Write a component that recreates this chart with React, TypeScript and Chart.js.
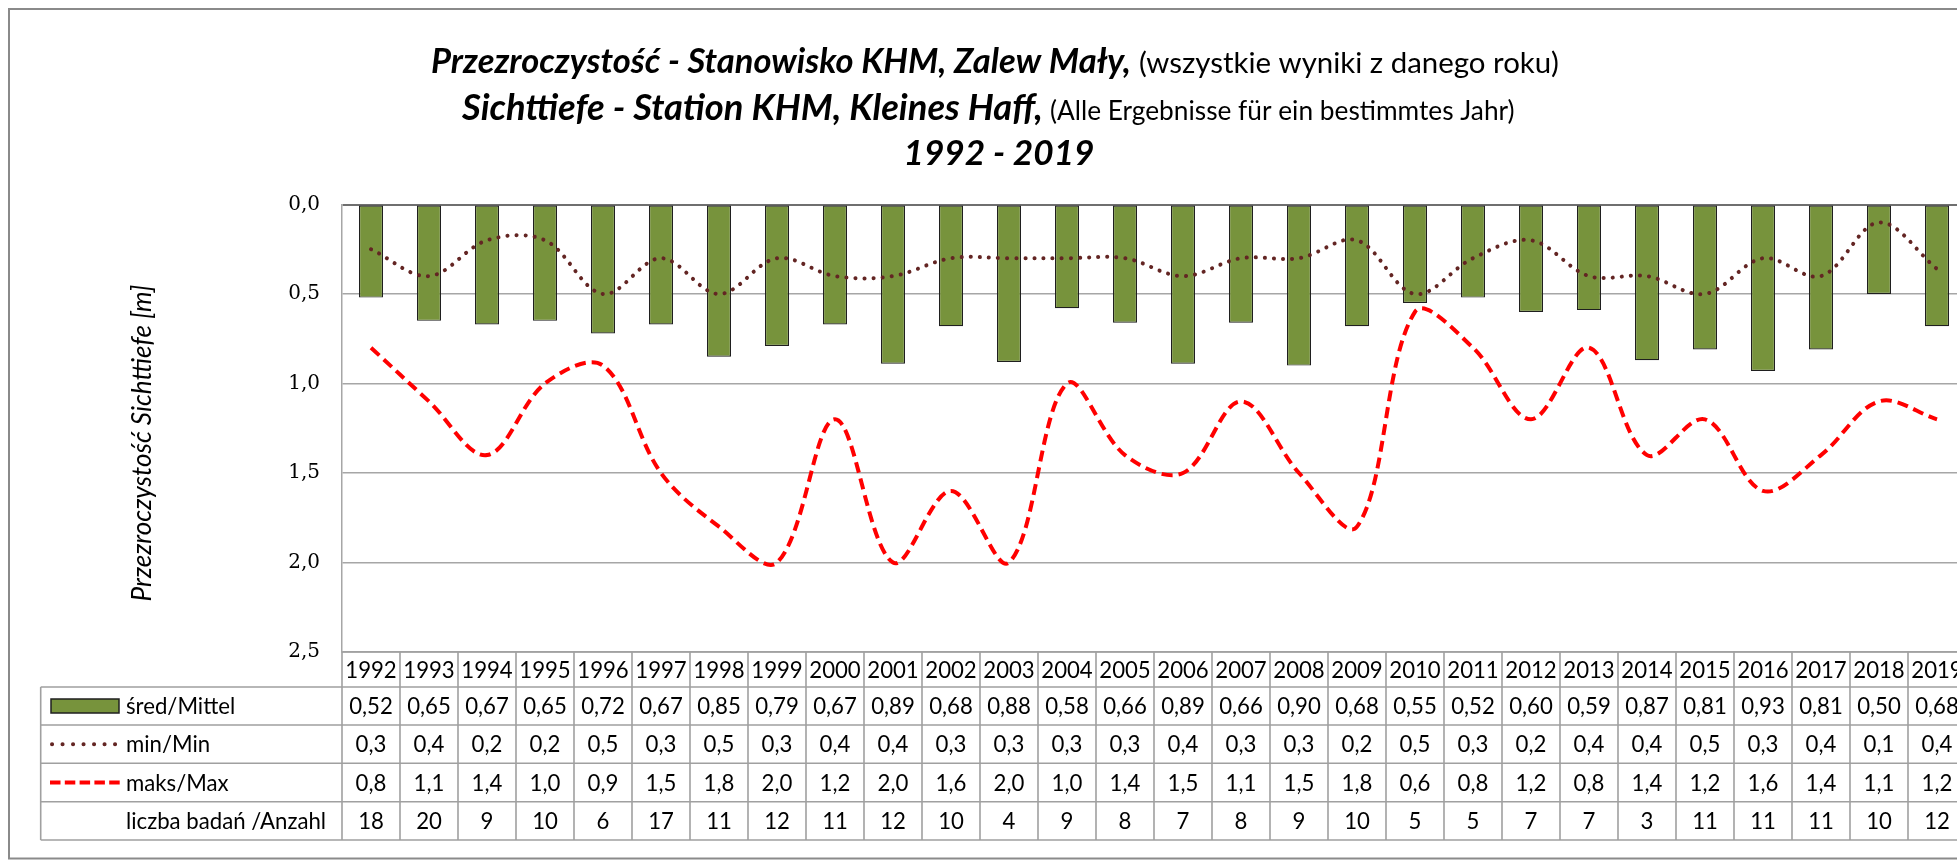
import React, { useEffect, useRef } from "react";
import { Chart, registerables } from "chart.js";

Chart.register(...registerables);

// ---------- data ----------
const years = [
  "1992", "1993", "1994", "1995", "1996", "1997", "1998", "1999", "2000", "2001",
  "2002", "2003", "2004", "2005", "2006", "2007", "2008", "2009", "2010", "2011",
  "2012", "2013", "2014", "2015", "2016", "2017", "2018", "2019",
];
const meanValues = [
  0.52, 0.65, 0.67, 0.65, 0.72, 0.67, 0.85, 0.79, 0.67, 0.89,
  0.68, 0.88, 0.58, 0.66, 0.89, 0.66, 0.9, 0.68, 0.55, 0.52,
  0.6, 0.59, 0.87, 0.81, 0.93, 0.81, 0.5, 0.68,
];
const minValues = [
  0.25, 0.4, 0.2, 0.2, 0.5, 0.3, 0.5, 0.3, 0.4, 0.4,
  0.3, 0.3, 0.3, 0.3, 0.4, 0.3, 0.3, 0.2, 0.5, 0.3,
  0.2, 0.4, 0.4, 0.5, 0.3, 0.4, 0.1, 0.36,
];
const maxValues = [
  0.8, 1.1, 1.4, 1.0, 0.9, 1.5, 1.8, 2.0, 1.2, 2.0,
  1.6, 2.0, 1.0, 1.4, 1.5, 1.1, 1.5, 1.8, 0.6, 0.8,
  1.2, 0.8, 1.4, 1.2, 1.6, 1.4, 1.1, 1.2,
];
const sampleCounts = [
  18, 20, 9, 10, 6, 17, 11, 12, 11, 12,
  10, 4, 9, 8, 7, 8, 9, 10, 5, 5,
  7, 7, 3, 11, 11, 11, 10, 12,
];
const yAxisMin = 0;
const yAxisMax = 2.5;
const yAxisStep = 0.5;

const rowLabels = ["śred/Mittel", "min/Min", "maks/Max", "liczba badań /Anzahl"];
const yAxisTitle = "Przezroczystość Sichttiefe [m]";
const titleLine1Bold = "Przezroczystość - Stanowisko KHM, Zalew Mały,";
const titleLine1Regular = "(wszystkie wyniki z danego roku)";
const titleLine2Bold = "Sichttiefe - Station KHM, Kleines Haff,";
const titleLine2Regular = "(Alle Ergebnisse für ein bestimmtes Jahr)";
const titleLine3Bold = "1992 - 2019";

// ---------- styles / layout ----------
const CANVAS_W = 2010;
const CANVAS_H = 853;
const PLOT_LEFT = 334;
const PLOT_TOP = 196.5;
const PLOT_BOTTOM = 644;
const PLOT_RIGHT = 1958;

const BAR_COLOR = "#77933C";
const MIN_COLOR = "#632523";
const MAX_COLOR = "#FF0000";
const GRID_COLOR = "#a6a6a6";
const TABLE_LINE = "#a0a0a0";
const FONT = "Lato";

const fmt = (v: number, d: number) => v.toFixed(d).replace(".", ",");

function fitSize(ctx: CanvasRenderingContext2D, text: string, style: string, target: number) {
  ctx.font = `${style} 100px ${FONT}`;
  const w = ctx.measureText(text).width;
  return (100 * target) / w;
}

const overlayPlugin = {
  id: "overlay",
  afterDraw(chart: any) {
    const ctx: CanvasRenderingContext2D = chart.ctx;
    const area = chart.chartArea;
    const n = years.length;
    const pitch = (area.right - area.left) / n;
    const xs = chart.scales.x;
    ctx.save();

    // outer frame
    ctx.strokeStyle = "#8a8a8a";
    ctx.lineWidth = 2;
    ctx.strokeRect(1, 1, CANVAS_W + 20, 849.5);

    // titles
    ctx.fillStyle = "#000";
    ctx.textBaseline = "alphabetic";
    ctx.textAlign = "left";
    const drawSeg = (text: string, style: string, x: number, w: number, y: number) => {
      const s = fitSize(ctx, text, style, w);
      ctx.font = `${style} ${s}px ${FONT}`;
      ctx.fillText(text, x, y);
      return s;
    };
    drawSeg(titleLine1Bold, "italic bold", 423, 700, 65);
    drawSeg(titleLine1Regular, "normal", 1131, 420, 65);
    const s2 = drawSeg(titleLine2Bold, "italic bold", 454, 581, 112);
    drawSeg(titleLine2Regular, "normal", 1042, 465, 112);
    ctx.font = `italic bold ${s2 * 0.97}px ${FONT}`;
    ctx.textAlign = "center";
    ctx.fillText(titleLine3Bold, 991, 157);
    ctx.textAlign = "left";

    // y axis title
    const ts = fitSize(ctx, yAxisTitle, "italic", 317);
    ctx.save();
    ctx.translate(134.5, 435);
    ctx.rotate(-Math.PI / 2);
    ctx.font = `italic ${ts}px ${FONT}`;
    ctx.textAlign = "center";
    ctx.textBaseline = "middle";
    ctx.fillText(yAxisTitle, 0, 0);
    ctx.restore();

    // data table
    const tableLeft = 32.7;
    const yearTop = PLOT_BOTTOM;
    const rowEdges = [679, 717, 755.3, 793.7, 832];
    const right = CANVAS_W + 20;
    ctx.strokeStyle = TABLE_LINE;
    ctx.lineWidth = 1.6;
    ctx.beginPath();
    ctx.moveTo(area.left, yearTop);
    ctx.lineTo(right, yearTop);
    for (const y of rowEdges) {
      ctx.moveTo(tableLeft, y);
      ctx.lineTo(right, y);
    }
    ctx.moveTo(tableLeft, rowEdges[0]);
    ctx.lineTo(tableLeft, rowEdges[4]);
    for (let k = 0; k <= n; k++) {
      const x = area.left + k * pitch;
      ctx.moveTo(x, yearTop);
      ctx.lineTo(x, rowEdges[4]);
    }
    ctx.stroke();

    const tableSize = fitSize(ctx, "1992", "normal", 51.5);
    ctx.font = `normal ${tableSize}px ${FONT}`;
    ctx.fillStyle = "#000";
    ctx.textAlign = "center";
    ctx.textBaseline = "middle";
    const yearMid = (yearTop + rowEdges[0]) / 2 + 1;
    const mids = [0, 1, 2, 3].map((i) => (rowEdges[i] + rowEdges[i + 1]) / 2 + 1);
    for (let i = 0; i < n; i++) {
      const cx = xs.getPixelForValue(i);
      ctx.fillText(years[i], cx, yearMid);
      ctx.fillText(fmt(meanValues[i], 2), cx, mids[0]);
      ctx.fillText(fmt(minValues[i], 1), cx, mids[1]);
      ctx.fillText(fmt(maxValues[i], 1), cx, mids[2]);
      ctx.fillText(String(sampleCounts[i]), cx, mids[3]);
    }

    // legend keys + labels
    ctx.textAlign = "left";
    for (let r = 0; r < 4; r++) ctx.fillText(rowLabels[r], 118, mids[r]);
    const m0 = mids[0] - 1;
    ctx.fillStyle = BAR_COLOR;
    ctx.fillRect(43, m0 - 7, 68, 14);
    ctx.strokeStyle = "#1f1f1f";
    ctx.lineWidth = 1.5;
    ctx.strokeRect(43, m0 - 7, 68, 14);

    ctx.strokeStyle = MIN_COLOR;
    ctx.lineWidth = 4;
    ctx.lineCap = "round";
    ctx.setLineDash([0.1, 10.4]);
    ctx.beginPath();
    ctx.moveTo(44, mids[1] - 1);
    ctx.lineTo(108, mids[1] - 1);
    ctx.stroke();

    ctx.strokeStyle = MAX_COLOR;
    ctx.lineCap = "butt";
    ctx.setLineDash([10.5, 4.3]);
    ctx.beginPath();
    ctx.moveTo(42, mids[2] - 1);
    ctx.lineTo(112, mids[2] - 1);
    ctx.stroke();
    ctx.setLineDash([]);

    ctx.restore();
  },
};

export default function App() {
  const canvasRef = useRef<HTMLCanvasElement | null>(null);

  useEffect(() => {
    const canvas = canvasRef.current;
    if (!canvas) return;
    const chart = new Chart(canvas, {
      type: "bar",
      data: {
        labels: years,
        datasets: [
          {
            type: "line",
            label: "min/Min",
            data: minValues,
            borderColor: MIN_COLOR,
            borderWidth: 4,
            borderDash: [0.1, 9],
            borderCapStyle: "round",
            pointRadius: 0,
            tension: 0.35,
            fill: false,
            order: 1,
          } as any,
          {
            type: "line",
            label: "maks/Max",
            data: maxValues,
            borderColor: MAX_COLOR,
            borderWidth: 4,
            borderDash: [11, 6],
            borderCapStyle: "butt",
            pointRadius: 0,
            tension: 0.35,
            fill: false,
            order: 2,
          } as any,
          {
            type: "bar",
            label: "śred/Mittel",
            data: meanValues,
            backgroundColor: BAR_COLOR,
            borderColor: "#1f1f1f",
            borderWidth: 1.2,
            borderSkipped: false,
            barPercentage: 0.414,
            categoryPercentage: 1,
            order: 3,
          } as any,
        ],
      },
      options: {
        responsive: false,
        animation: false,
        devicePixelRatio: 1,
        layout: {
          padding: {
            left: 0,
            top: PLOT_TOP,
            right: CANVAS_W - PLOT_RIGHT,
            bottom: CANVAS_H - PLOT_BOTTOM,
          },
        },
        plugins: {
          legend: { display: false },
          title: { display: false },
          tooltip: { enabled: false },
        },
        scales: {
          x: {
            type: "category",
            display: false,
            offset: true,
            grid: { display: false },
          },
          y: {
            reverse: true,
            min: yAxisMin,
            max: yAxisMax,
            afterFit: (s: any) => {
              s.width = PLOT_LEFT;
            },
            ticks: {
              stepSize: yAxisStep,
              padding: 22,
              color: "#000",
              font: { family: "DejaVu Serif", size: 20 },
              callback: (v: any) => fmt(Number(v), 1),
            },
            grid: {
              drawTicks: false,
              color: (c: any) => (c.tick && c.tick.value === 0 ? "#6f6f6f" : GRID_COLOR),
              lineWidth: (c: any) => (c.tick && c.tick.value === 0 ? 2 : 1.5),
            },
            border: { display: true, color: GRID_COLOR, width: 1.5 },
          },
        },
      } as any,
      plugins: [overlayPlugin as any],
    });
    return () => chart.destroy();
  }, []);

  return (
    <div
      style={{
        position: "fixed",
        left: 8,
        top: 8,
        width: 1949,
        height: 853,
        overflow: "hidden",
        background: "#fff",
      }}
    >
      <canvas ref={canvasRef} width={CANVAS_W} height={CANVAS_H} style={{ display: "block" }} />
    </div>
  );
}
